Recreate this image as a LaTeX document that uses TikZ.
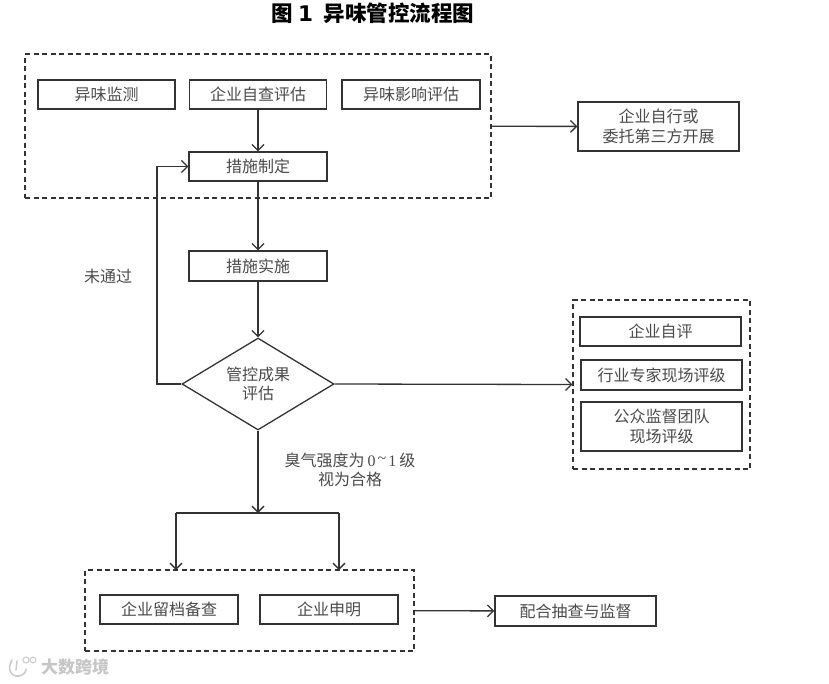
\documentclass[tikz,border=0pt]{standalone}
\usepackage{fontspec}
\newfontfamily\cjk{Noto Sans CJK SC}
\newfontfamily\numfont{DejaVu Sans}
\newfontfamily\labelnum{Liberation Serif}
\usetikzlibrary{arrows.meta,shapes.geometric}
\definecolor{inkline}{HTML}{333333}
\definecolor{inktext}{HTML}{4A4A4A}
\tikzset{
	flowbox/.style={rectangle,draw=inkline,line width=1.3pt,text=inktext,align=center,inner sep=0pt,font=\cjk\fontsize{16}{19.5}\selectfont},
	groupbox/.style={rectangle,draw=inkline,line width=1.1pt,dash pattern=on 5pt off 3.5pt,inner sep=0pt},
	flowline/.style={draw=inkline,line width=1.3pt,-{Straight Barb[length=6pt,width=12pt]}},
	plainline/.style={draw=inkline,line width=1.3pt},
	notelabel/.style={text=inktext,align=center,inner sep=0pt,font=\cjk\fontsize{16}{19.5}\selectfont},
}
\begin{document}
\begin{tikzpicture}[x=1pt,y=-1pt]
	\useasboundingbox (0,0) rectangle (829,683);
	\node[anchor=center,inner sep=0pt,font=\cjk\bfseries\fontsize{21.5}{25}\selectfont] (title) at (373,13)
		{图\kern5pt{\numfont\bfseries 1}\kern11pt 异味管控流程图};

	\node[groupbox,minimum width=466pt,minimum height=144pt] (evalgroup) at (258,126) {};
	\node[groupbox,minimum width=177pt,minimum height=169pt] (reviewgroup) at (661.5,384.5) {};
	\node[groupbox,minimum width=329pt,minimum height=81pt] (filegroup) at (249.5,610.5) {};

	\node[flowbox,minimum width=137pt,minimum height=29pt] (monitor) at (106.5,94.5) {异味监测};
	\node[flowbox,minimum width=137pt,minimum height=29pt] (selfcheck) at (258,94.5) {企业自查评估};
	\node[flowbox,minimum width=138pt,minimum height=29pt] (impact) at (411,94.5) {异味影响评估};
	\node[flowbox,minimum width=138pt,minimum height=29pt] (plan) at (258,166.5) {措施制定};
	\node[flowbox,minimum width=161pt,minimum height=49pt] (thirdparty) at (658.5,126.5) {企业自行或\\委托第三方开展};
	\node[flowbox,minimum width=138pt,minimum height=30pt] (apply) at (258,266) {措施实施};
	\node[flowbox,diamond,aspect=1.65,minimum width=152pt,minimum height=92pt] (assess) at (258,384) {管控成果\\评估};
	\node[flowbox,minimum width=161pt,minimum height=29pt] (selfrate) at (660.5,331.5) {企业自评};
	\node[flowbox,minimum width=161pt,minimum height=30pt] (expert) at (661.5,375) {行业专家现场评级};
	\node[flowbox,minimum width=161pt,minimum height=49pt] (public) at (661.5,426.5) {公众监督团队\\现场评级};
	\node[flowbox,minimum width=138pt,minimum height=29pt] (archive) at (169,609.5) {企业留档备查};
	\node[flowbox,minimum width=138pt,minimum height=29pt] (declare) at (329,609.5) {企业申明};
	\node[flowbox,minimum width=161pt,minimum height=30pt] (inspect) at (575.5,611) {配合抽查与监督};

	\node[notelabel] (failnote) at (108,276) {未通过};
	\node[notelabel] (passnote) at (350,470) {臭气强度为{\labelnum\kern3pt 0\kern2pt\raisebox{3pt}{\textasciitilde}\kern2pt 1\kern3pt}级\\视为合格};

	\coordinate (loopturn) at (157,384);
	\coordinate (split) at (258,513);
	\coordinate (splitleft) at (176,513);
	\coordinate (splitright) at (339,513);
	\coordinate (dropleft) at (176,570);
	\coordinate (dropright) at (339,570);

	\draw[flowline] (selfcheck) -- (plan);
	\draw[flowline] (plan) -- (apply);
	\draw[flowline] (apply) -- (assess);
	\draw[flowline] (evalgroup) -- (thirdparty);
	\draw[flowline] (assess.east) -- (reviewgroup.west);
	\draw[flowline] (assess.west) -- (loopturn) |- (plan.west);
	\draw[flowline] (assess.south) -- (split);
	\draw[plainline] (splitleft) -- (splitright);
	\draw[flowline] (splitleft) -- (dropleft);
	\draw[flowline] (splitright) -- (dropright);
	\draw[flowline] (filegroup) -- (inspect);

	\node[anchor=west,inner sep=0pt,text=gray!45,font=\cjk\bfseries\fontsize{17}{20}\selectfont] (mark) at (41,667) {大数跨境};
	\draw[gray!40,line width=1.6pt,line cap=round] (12,660) .. controls (7,668) and (10,677) .. (19,676) .. controls (24,675) and (26,672) .. (26,669);
	\draw[gray!40,line width=1.6pt,line cap=round] (17,661) -- (16,670);
	\draw[gray!40,line width=1.1pt] (26,660) circle (3pt);
	\draw[gray!40,line width=1.1pt] (33,660) circle (3pt);
\end{tikzpicture}
\end{document}
